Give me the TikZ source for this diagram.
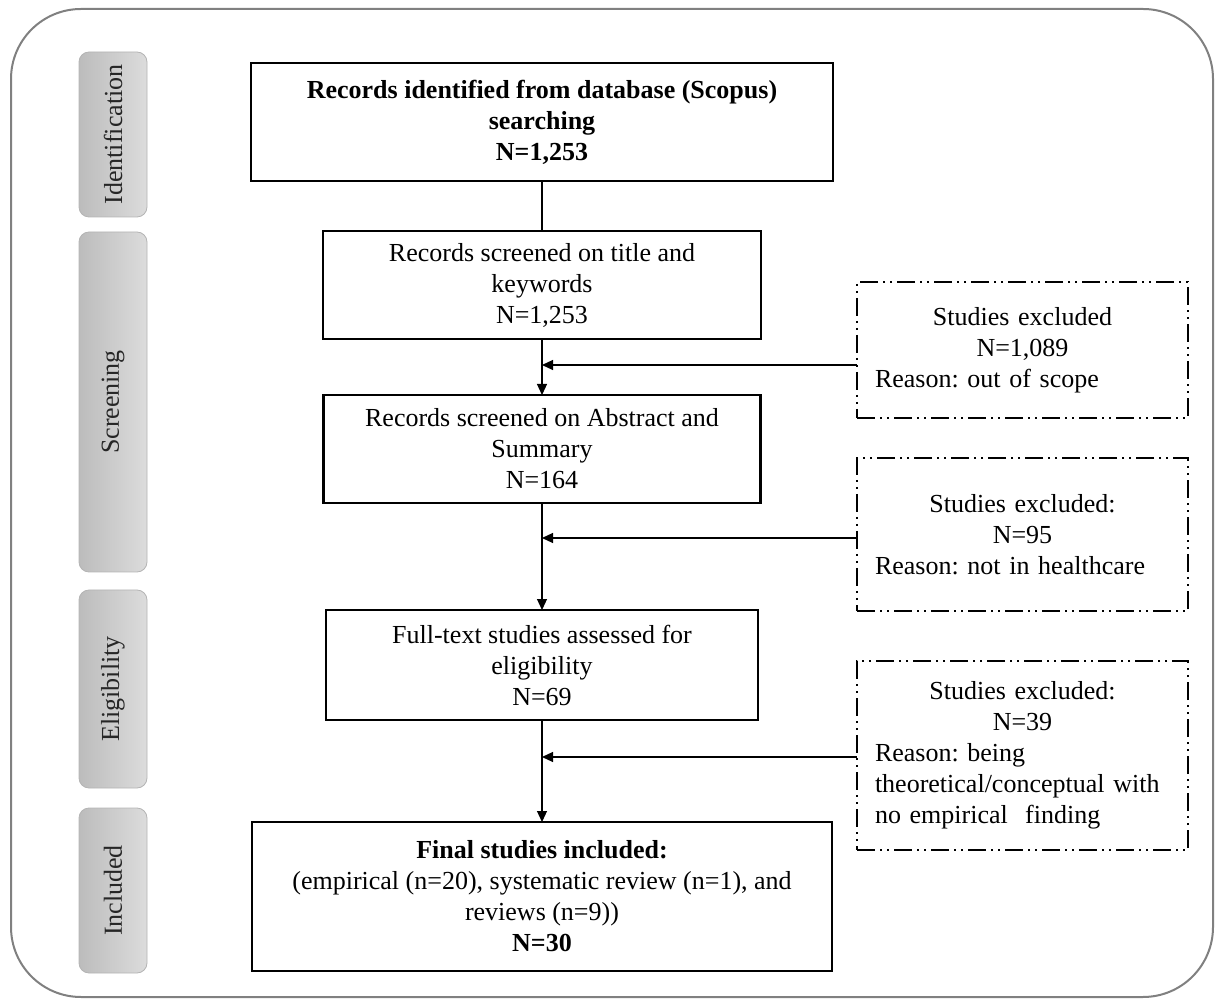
\documentclass[tikz,border=0pt]{standalone}
\usepackage{fontspec}
\setmainfont{Liberation Serif}
\usetikzlibrary{arrows.meta,positioning}
\definecolor{cframe}{RGB}{128,128,128}
\definecolor{ctabtop}{RGB}{220,220,220}
\definecolor{ctabbot}{RGB}{188,188,188}
\definecolor{ctabline}{RGB}{180,180,180}
\frenchspacing

\begin{document}
\begin{tikzpicture}[
  x=0.5pt, y=-0.5pt,
  font=\fontsize{13}{15.5}\selectfont,
  box/.style={draw, line width=1.1pt, align=center, outer sep=0pt, inner sep=3pt},
  excl/.style={draw, line width=0.9pt, dash pattern=on 9pt off 2.5pt on 1pt off 2.5pt on 1pt off 2.5pt,
    outer sep=0pt, inner xsep=9pt, text width=147.5pt, minimum width=165.5pt},
  tab/.style={rounded corners=5pt, draw=ctabline, left color=ctabbot, right color=ctabtop,
    rotate=90, minimum height=34pt, outer sep=0pt, text=black!85},
  ar/.style={-{Triangle[length=5.5pt,width=5pt]}, line width=0.6pt},
  ln/.style={line width=0.6pt},
]
\useasboundingbox (0,0) rectangle (1215,999);
% ---- outer frame ----
\draw[cframe, line width=1pt, rounded corners=35pt] (11,9) rectangle (1213,997);

% ---- phase tabs, left ----
\node[tab, minimum width=82.5pt] (tid) at (113,134.5) {Identification};
\node[tab, minimum width=170pt] (tsc) at (113,402) {Screening};
\node[tab, minimum width=99pt] (tel) at (113,689) {Eligibility};
\node[tab, minimum width=82.5pt] (tin) at (113,890.5) {Included};

% ---- main column ----
\node[box, minimum width=291pt, minimum height=59pt] (b1) at (542,122)
  {\textbf{Records identified from database (Scopus)}\\\textbf{searching}\\\textbf{N=1,253}};
\node[box, minimum width=219pt, minimum height=54pt, below=25pt of b1] (b2)
  {Records screened on title and\\keywords\\N=1,253};
\node[box, minimum width=218.5pt, minimum height=54pt, below=28pt of b2] (b3)
  {Records screened on Abstract and\\Summary\\N=164};
\node[box, minimum width=216pt, minimum height=55pt, below=53.5pt of b3] (b4)
  {Full-text studies assessed for\\eligibility\\N=69};
\node[box, minimum width=290pt, minimum height=74.5pt, below=51pt of b4] (b5)
  {\textbf{Final studies included:}\\(empirical (n=20), systematic review (n=1), and\\reviews (n=9))\\\textbf{N=30}};
\draw[ln] (b1) -- (b2);
\draw[ar] (b2) -- (b3);
\draw[ar] (b3) -- (b4);
\draw[ar] (b4) -- (b5);

% ---- exclusions, right ----
\node[excl, minimum height=68pt] (exa) at (1022.5,350)
  {{\centering Studies excluded\\N=1,089\par}\raggedright Reason: out of scope};
\node[excl, minimum height=76.5pt] (exb) at (1022.5,534.5)
  {{\centering Studies excluded:\\N=95\par}\raggedright Reason: not in healthcare};
\node[excl, minimum height=94.5pt] (exc) at (1022.5,755.5)
  {{\centering Studies excluded:\\N=39\par}\raggedright Reason: being\\theoretical/conceptual with\\no empirical\ \ finding};
\draw[ar] ([yshift=-7.5pt]exa.west) -- ([yshift=-7.5pt]exa.west -| b2.south);
\draw[ar] ([yshift=-1.75pt]exb.west) -- ([yshift=-1.75pt]exb.west -| b3.south);
\draw[ar] ([yshift=-0.75pt]exc.west) -- ([yshift=-0.75pt]exc.west -| b4.south);
\end{tikzpicture}
\end{document}
